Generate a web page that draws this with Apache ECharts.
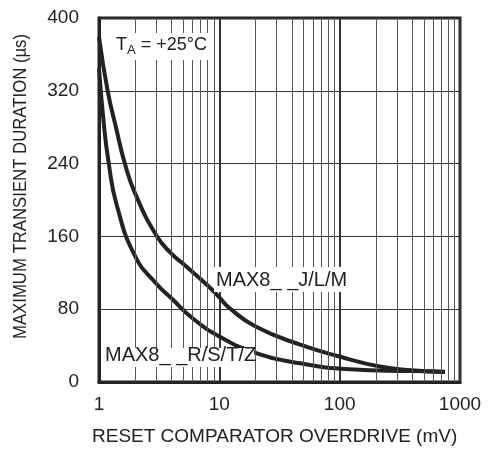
<!DOCTYPE html>
<html>
<head>
<meta charset="utf-8">
<script src="https://cdn.jsdelivr.net/npm/echarts@6/dist/echarts.min.js"></script>
<style>
html,body{margin:0;padding:0;background:#fff;}
#top{width:499px;height:449px;}
</style>
</head>
<body>
<div id="top"></div>
<script>
// overdrive (mV) and duration (us)
var jlmX = [1, 1.18, 1.4, 1.64, 2, 3, 4, 5, 8, 10, 12.2, 20, 47, 100, 215, 400, 750];
var jlmY = [379, 320, 277, 240, 207, 161, 141, 130, 106, 93, 81, 61, 41, 28, 17, 13, 11];
var rstzX = [1, 1.1, 1.2, 1.4, 2, 3, 4, 6, 10, 20, 47, 121, 400, 750];
var rstzY = [345, 282, 242, 195, 138, 108, 92, 70, 50, 32, 20.5, 14, 12, 11.3];
var minorX = [2, 3, 4, 5, 6, 7, 8, 9, 20, 30, 40, 50, 60, 70, 80, 90, 200, 300, 400, 500, 600, 700, 800, 900];
var yTicks = [0, 80, 160, 240, 320, 400];
var xTicks = [1, 10, 100, 1000];

function pairs(xs, ys) {
	var out = [];
	for (var i = 0; i < xs.length; i++) out.push([xs[i], ys[i]]);
	return out;
}

var minorLines = [];
for (var i = 0; i < minorX.length; i++) minorLines.push({xAxis: minorX[i]});

var font = 'Liberation Sans, Arial, sans-serif';
var myChart = echarts.init(document.getElementById('top'));
var option = {
	animation: false,
	backgroundColor: '#fff',
	grid: {
		left: 99, right: 39, top: 18, bottom: 67,
		show: true, borderColor: '#222', borderWidth: 3
	},
	xAxis: {
		type: 'log', logBase: 10, min: xTicks[0], max: xTicks[xTicks.length - 1],
		axisLine: {lineStyle: {color: '#222', width: 3}},
		axisTick: {show: false},
		axisLabel: {color: '#222', fontSize: 19, fontFamily: font, margin: 13, formatter: function (v) { return String(v); }},
		splitLine: {show: true, lineStyle: {color: '#333', width: 2}}
	},
	yAxis: {
		type: 'value', min: yTicks[0], max: yTicks[yTicks.length - 1], interval: 80,
		axisLine: {show: true, lineStyle: {color: '#222', width: 3}},
		axisTick: {show: false},
		axisLabel: {color: '#222', fontSize: 19, fontFamily: font, margin: 20},
		splitLine: {show: true, lineStyle: {color: '#333', width: 1}}
	},
	series: [{
		name: 'grid', type: 'line', data: [], silent: true,
		markLine: {
			silent: true, symbol: ['none', 'none'], label: {show: false},
			lineStyle: {color: '#555', width: 1, type: 'solid'},
			data: minorLines
		}
	}, {
		name: 'MAX8__J/L/M', type: 'line', data: pairs(jlmX, jlmY),
		smooth: 0.5, showSymbol: false,
		lineStyle: {color: '#222', width: 4}
	}, {
		name: 'MAX8__R/S/T/Z', type: 'line', data: pairs(rstzX, rstzY),
		smooth: 0.5, showSymbol: false,
		lineStyle: {color: '#222', width: 4}
	}],
	graphic: [{
		type: 'text', x: 12, y: 339, rotation: Math.PI / 2, scaleX: 0.93,
		style: {text: 'MAXIMUM TRANSIENT DURATION (µs)', fill: '#222', verticalAlign: 'top', font: '18px "Liberation Sans Narrow", Arial, sans-serif'}
	}, {
		type: 'text', left: 92, top: 427,
		style: {text: 'RESET COMPARATOR OVERDRIVE (mV)', fill: '#222', font: '19px ' + font}
	}, {
		type: 'rect', shape: {x: 107, y: 33, width: 103, height: 27}, style: {fill: '#fff'}, z: 50
	}, {
		type: 'text', left: 116, top: 36, z: 51,
		style: {
			text: '{t|T}{s|A}{t| = +25°C}', fill: '#222',
			rich: {t: {fontSize: 18, fontFamily: font, fill: '#222'}, s: {fontSize: 13, fontFamily: font, fill: '#222', padding: [10, 0, 0, 0]}}
		}
	}, {
		type: 'rect', shape: {x: 214, y: 267, width: 136, height: 25}, style: {fill: '#fff'}, z: 50
	}, {
		type: 'text', left: 216, top: 270, z: 51,
		style: {text: 'MAX8_ _J/L/M', fill: '#222', font: '20px ' + font}
	}, {
		type: 'rect', shape: {x: 104, y: 348, width: 150, height: 19}, style: {fill: '#fff'}, z: 50
	}, {
		type: 'text', left: 105, top: 345, z: 51,
		style: {text: 'MAX8_ _R/S/T/Z', fill: '#222', font: '20px ' + font}
	}]
};
myChart.setOption(option);
</script>
</body>
</html>
